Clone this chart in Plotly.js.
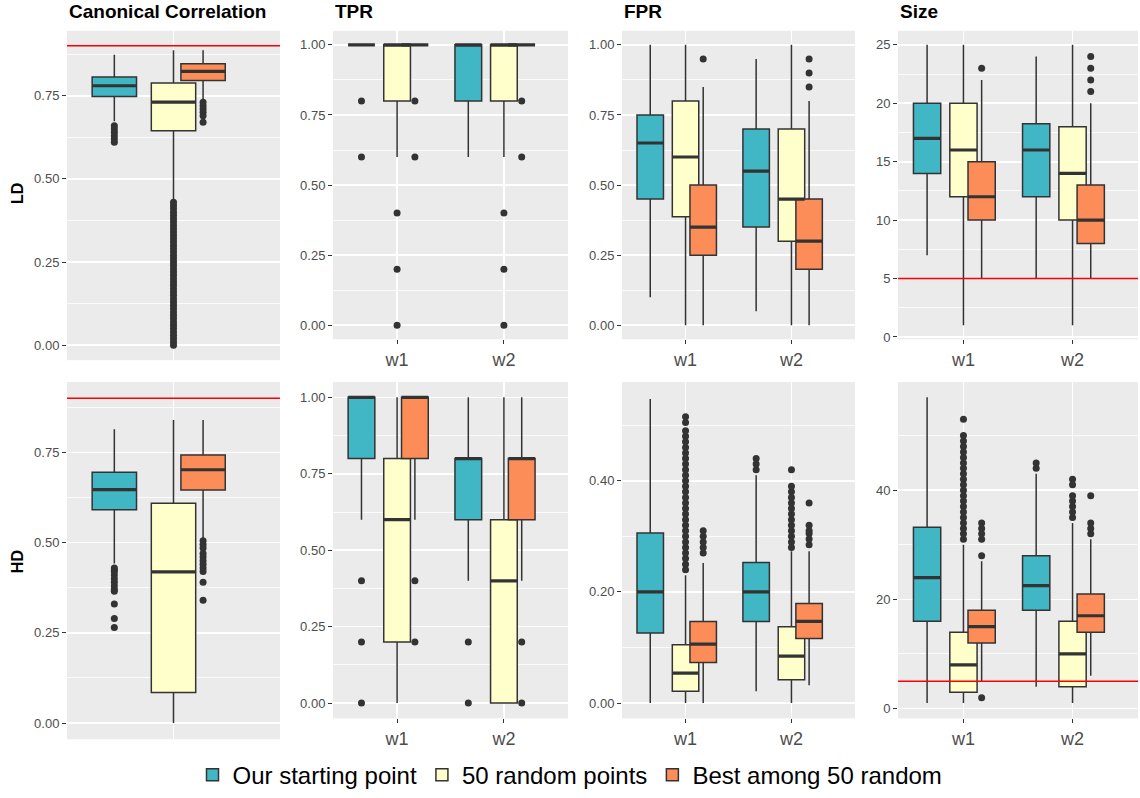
<!DOCTYPE html>
<html><head><meta charset="utf-8">
<script src="https://cdn.plot.ly/plotly-3.0.1.min.js"></script>
<style>html,body{margin:0;padding:0;background:#fff}#chart{width:1140px;height:798px}</style>
</head><body><div id="chart"></div>
<script>
// ---------- DATA ----------
const categories = ['w1', 'w2'];
const groupNames = ['Our starting point', '50 random points', 'Best among 50 random'];
const panelTitles = ['Canonical Correlation', 'TPR', 'FPR', 'Size'];
const rowLabels = ['LD', 'HD'];

// stats: [group][category] = [lowerWhisker, q1, median, q3, upperWhisker]
const ccLD = [[[0.673, 0.748, 0.780, 0.806, 0.873]],
              [[0.434, 0.645, 0.731, 0.788, 0.887]],
              [[0.738, 0.796, 0.823, 0.846, 0.887]]];
const ccLD_out = [[[0.66, 0.65, 0.64, 0.63, 0.62, 0.61]],
                  [[0.43, 0.42, 0.41, 0.40, 0.39, 0.38, 0.37, 0.36, 0.35, 0.34, 0.33, 0.32, 0.31, 0.30, 0.29, 0.28, 0.27, 0.26, 0.25, 0.24, 0.23, 0.22, 0.21, 0.20, 0.19, 0.18, 0.17, 0.16, 0.15, 0.14, 0.13, 0.12, 0.11, 0.10, 0.09, 0.08, 0.07, 0.06, 0.05, 0.04, 0.03, 0.02, 0.01, 0.00]],
                  [[0.73, 0.72, 0.71, 0.70, 0.69, 0.67]]];

const tprLD = [[[1, 1, 1, 1, 1], [0.6, 0.8, 1, 1, 1]],
               [[0.6, 0.8, 1, 1, 1], [0.6, 0.8, 1, 1, 1]],
               [[1, 1, 1, 1, 1], [1, 1, 1, 1, 1]]];
const tprLD_out = [[[0.8, 0.6], []],
                   [[0.4, 0.2, 0], [0.4, 0.2, 0]],
                   [[0.8, 0.6], [0.8, 0.6]]];

const fprLD = [[[0.10, 0.45, 0.65, 0.75, 1.00], [0.05, 0.35, 0.55, 0.70, 0.95]],
               [[0.00, 0.387, 0.60, 0.80, 1.00], [0.00, 0.30, 0.45, 0.70, 1.00]],
               [[0.00, 0.25, 0.35, 0.50, 0.85], [0.00, 0.20, 0.30, 0.45, 0.80]]];
const fprLD_out = [[[], []],
                   [[], []],
                   [[0.95], [0.85, 0.90, 0.95]]];

const sizeLD = [[[7, 14, 17, 20, 25], [5, 12, 16, 18.25, 24]],
                [[1, 12, 16, 20, 25], [1, 10, 14, 18, 25]],
                [[5, 10, 12, 15, 22], [5, 8, 10, 13, 20]]];
const sizeLD_out = [[[], []],
                    [[], []],
                    [[23], [21, 22, 23, 24]]];

const ccHD = [[[0.442, 0.591, 0.647, 0.695, 0.814]],
              [[0.000, 0.085, 0.419, 0.609, 0.840]],
              [[0.508, 0.646, 0.702, 0.743, 0.840]]];
const ccHD_out = [[[0.43, 0.425, 0.42, 0.41, 0.40, 0.39, 0.38, 0.37, 0.365, 0.33, 0.29, 0.265]],
                  [[]],
                  [[0.505, 0.495, 0.485, 0.47, 0.46, 0.45, 0.44, 0.43, 0.42, 0.39, 0.34]]];

const tprHD = [[[0.6, 0.8, 1, 1, 1], [0.4, 0.6, 0.8, 0.8, 1]],
               [[0, 0.2, 0.6, 0.8, 1], [0, 0, 0.4, 0.6, 1]],
               [[0.6, 0.8, 1, 1, 1], [0.4, 0.6, 0.8, 0.8, 1]]];
const tprHD_out = [[[0.4, 0.2, 0], [0.2, 0]],
                   [[], []],
                   [[0.4, 0.2], [0.2, 0]]];

const fprHD = [[[0.000, 0.126, 0.200, 0.306, 0.547], [0.0215, 0.147, 0.200, 0.253, 0.410]],
               [[0.000, 0.0215, 0.054, 0.105, 0.230], [0.000, 0.042, 0.0845, 0.1375, 0.273]],
               [[0.000, 0.073, 0.106, 0.147, 0.252], [0.032, 0.116, 0.147, 0.179, 0.273]]];
const fprHD_out = [[[], [0.42, 0.43, 0.44]],
                   [[0.24, 0.25, 0.26, 0.27, 0.28, 0.29, 0.30, 0.31, 0.32, 0.33, 0.34, 0.35, 0.36, 0.37, 0.38, 0.39, 0.40, 0.41, 0.42, 0.43, 0.44, 0.45, 0.46, 0.47, 0.48, 0.49, 0.505, 0.515],
                    [0.28, 0.29, 0.30, 0.31, 0.32, 0.33, 0.34, 0.35, 0.36, 0.37, 0.38, 0.39, 0.42]],
                   [[0.27, 0.28, 0.29, 0.30, 0.31], [0.285, 0.295, 0.305, 0.31, 0.32, 0.36]]];

const sizeHD = [[[1, 16, 24, 33.2, 57], [4, 18, 22.5, 28, 43]],
                [[1, 3, 8, 14, 30], [1, 4, 10, 16, 34]],
                [[5, 12, 15, 18, 27], [6, 14, 17, 21, 31]]];
const sizeHD_out = [[[], [44, 45]],
                    [[31, 32, 33, 34, 35, 36, 37, 38, 39, 40, 41, 42, 43, 44, 45, 46, 47, 48, 49, 50, 53],
                     [35, 36, 37, 38, 39, 41, 42]],
                    [[2, 28, 31, 32, 33, 34], [32, 33, 34, 39]]];

// reference (target) lines
const ccTarget = 0.9;
const sizeTarget = 5;

// ---------- STYLE ----------
const groupColors = ['#41b6c4', '#ffffcc', '#fc8d59'];
const dodge = [-1 / 3, 0, 1 / 6];
const boxWidth = 0.25;
const W = 1140, H = 798;
const colX = [[67, 280], [333, 568], [622, 855], [898, 1138]];
const rowY = [{top: 31, bottom: 341, bottom1: 362}, {top: 384, bottom: 722, bottom1: 743}];
const FONT = '"Liberation Sans", Arial, sans-serif';

const panels = [
  {row: 0, col: 0, stats: ccLD, out: ccLD_out, range: [-0.045, 0.945], dtick: 0.25, fmt: '.2f', target: ccTarget},
  {row: 0, col: 1, stats: tprLD, out: tprLD_out, range: [-0.05, 1.05], dtick: 0.25, fmt: '.2f'},
  {row: 0, col: 2, stats: fprLD, out: fprLD_out, range: [-0.05, 1.05], dtick: 0.25, fmt: '.2f'},
  {row: 0, col: 3, stats: sizeLD, out: sizeLD_out, range: [-0.2, 26.2], dtick: 5, fmt: 'd', target: sizeTarget},
  {row: 1, col: 0, stats: ccHD, out: ccHD_out, range: [-0.045, 0.945], dtick: 0.25, fmt: '.2f', target: ccTarget},
  {row: 1, col: 1, stats: tprHD, out: tprHD_out, range: [-0.05, 1.05], dtick: 0.25, fmt: '.2f'},
  {row: 1, col: 2, stats: fprHD, out: fprHD_out, range: [-0.0275, 0.5775], dtick: 0.2, fmt: '.2f'},
  {row: 1, col: 3, stats: sizeHD, out: sizeHD_out, range: [-1.8, 59.8], dtick: 20, fmt: 'd', target: sizeTarget}
];

const boxTraces = [], medTraces = [], outTraces = [];
const layout = {
  width: W, height: H,
  margin: {l: 0, r: 0, t: 0, b: 0},
  paper_bgcolor: '#ffffff', plot_bgcolor: '#EBEBEB',
  font: {family: FONT, color: '#4D4D4D'},
  boxmode: 'overlay',
  showlegend: true,
  legend: {orientation: 'h', x: 0.5, xanchor: 'center', y: 1 - 779 / H, yanchor: 'middle',
           font: {family: FONT, size: 24, color: '#000'}, bgcolor: 'rgba(0,0,0,0)', traceorder: 'normal',
           itemwidth: 30, tracegroupgap: 0},
  annotations: [], shapes: []
};

panels.forEach((p, i) => {
  const n = i + 1;
  const xa = 'x' + n, ya = 'y' + n;
  const cats = p.col === 0 ? [''] : categories;
  const pos = cats.map((c, k) => k + 1);
  const yb = p.col === 0 ? rowY[p.row].bottom1 : rowY[p.row].bottom;
  layout['xaxis' + n] = {
    domain: [colX[p.col][0] / W, colX[p.col][1] / W], anchor: ya,
    range: [0.4, pos.length + 0.6], tickvals: pos, ticktext: cats,
    showticklabels: p.col !== 0, ticks: p.col === 0 ? '' : 'outside', ticklen: 4, tickcolor: '#333333', tickwidth: 1,
    tickfont: {size: 18, color: '#4D4D4D'},
    showgrid: true, gridcolor: '#ffffff', gridwidth: 1.6, zeroline: false, showline: false, automargin: false,
    fixedrange: true
  };
  layout['yaxis' + n] = {
    domain: [1 - yb / H, 1 - rowY[p.row].top / H], anchor: xa,
    range: p.range, tick0: 0, dtick: p.dtick, tickformat: p.fmt,
    ticks: 'outside', ticklen: 4, tickcolor: '#333333', tickwidth: 1,
    tickfont: {size: 13, color: '#4D4D4D'},
    showgrid: true, gridcolor: '#ffffff', gridwidth: 1.6, zeroline: false, showline: false, automargin: false,
    minor: {tick0: 0, dtick: p.dtick / 2, showgrid: true, gridcolor: '#ffffff', gridwidth: 0.8},
    fixedrange: true
  };
  for (let g = 0; g < 3; g++) {
    const x = pos.map(v => v + dodge[g]);
    const s = p.stats[g];
    boxTraces.push({
      type: 'box', xaxis: xa, yaxis: ya, x: x,
      lowerfence: s.map(v => v[0]), q1: s.map(v => v[1]), median: s.map(v => v[2]),
      q3: s.map(v => v[3]), upperfence: s.map(v => v[4]),
      width: boxWidth, whiskerwidth: 0, fillcolor: groupColors[g],
      line: {color: '#333333', width: 1.5},
      name: groupNames[g], legendgroup: 'g' + g, showlegend: i === 0, hoverinfo: 'skip'
    });
    medTraces.push({
      type: 'box', xaxis: xa, yaxis: ya, x: x,
      lowerfence: s.map(v => v[2]), q1: s.map(v => v[2]), median: s.map(v => v[2]),
      q3: s.map(v => v[2]), upperfence: s.map(v => v[2]),
      width: boxWidth, whiskerwidth: 0, fillcolor: 'rgba(0,0,0,0)',
      line: {color: '#333333', width: 3.2},
      name: groupNames[g], legendgroup: 'g' + g, showlegend: false, hoverinfo: 'skip'
    });
    const ox = [], oy = [];
    p.out[g].forEach((arr, k) => arr.forEach(v => { ox.push(x[k]); oy.push(v); }));
    if (oy.length) {
      outTraces.push({
        type: 'scatter', mode: 'markers', xaxis: xa, yaxis: ya, x: ox, y: oy,
        marker: {color: '#333333', size: 7}, showlegend: false, hoverinfo: 'skip'
      });
    }
  }
  if (p.target !== undefined) {
    layout.shapes.push({type: 'line', xref: xa + ' domain', yref: ya, x0: 0, x1: 1, y0: p.target, y1: p.target,
                        line: {color: '#FF0000', width: 1.5}, layer: 'above'});
  }
});

panelTitles.forEach((t, c) => {
  layout.annotations.push({text: '<b>' + t + '</b>', xref: 'paper', yref: 'paper', x: colX[c][0] / W, y: 1 - 12 / H,
    xanchor: 'left', yanchor: 'middle', showarrow: false, font: {family: FONT, size: 19, color: '#000'}});
});
rowLabels.forEach((t, r) => {
  const yc = r === 0 ? 195 : 565;
  layout.annotations.push({text: '<b>' + t + '</b>', xref: 'paper', yref: 'paper', x: 17 / W, y: 1 - yc / H,
    xanchor: 'center', yanchor: 'middle', textangle: -90, showarrow: false, font: {family: FONT, size: 16, color: '#000'}});
});

Plotly.newPlot('chart', boxTraces.concat(medTraces, outTraces), layout, {staticPlot: true, displayModeBar: false});
</script></body></html>
